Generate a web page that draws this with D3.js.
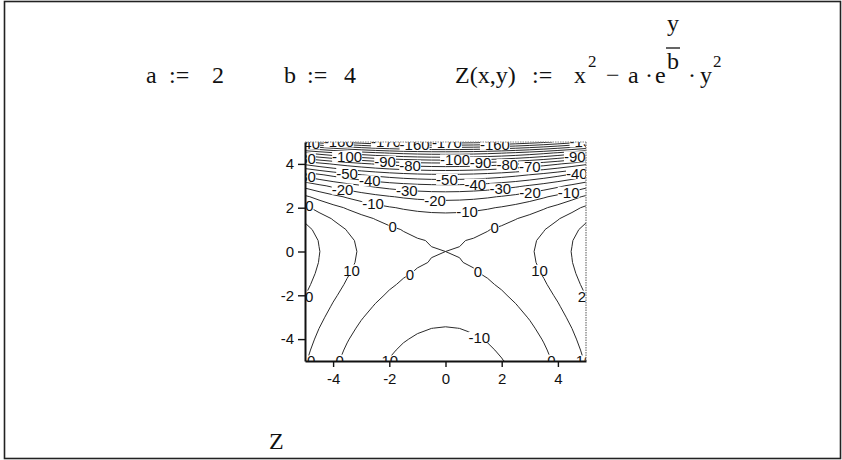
<!DOCTYPE html>
<html>
<head>
<meta charset="utf-8">
<script src="https://cdn.jsdelivr.net/npm/d3@7"></script>
<style>
  html, body { margin: 0; padding: 0; background: #fff; }
  svg { display: block; }
  .serif { font-family: "Liberation Serif", "Times New Roman", serif; fill: #111; }
  .tick text, .clabel { font-family: "Liberation Sans", Arial, sans-serif; }
</style>
</head>
<body>
<svg id="chart" width="842" height="460"></svg>
<script>
// Worksheet constants
const a = 2;
const b = 4;

// Plotted range of x and y, and the number of samples per axis
const xRange = [-5, 5];
const yRange = [-5, 5];
const gridCount = 21;

// Contour levels
const levels = [-170, -160, -150, -140, -130, -120, -110, -100, -90, -80, -70,
                -60, -50, -40, -30, -20, -10, 0, 10, 20];

// Axis ticks
const xTicks = [-4, -2, 0, 2, 4];
const yTicks = [-4, -2, 0, 2, 4];

// Label anchors: [level, x, y]; each label is moved onto its own contour line
const labelSpots = [
  [20, -5, -2.05], [20, 5, -2.05],
  [10, -4.93, -5], [10, 4.93, -5],
  [0, -3.7, -5], [0, 3.7, -5],
  [-10, -2.07, -5], [-10, 1.21, -3.9],
  [10, -3.4, -0.82], [10, 3.43, -0.82],
  [0, -1.37, -0.82], [0, 1.23, -0.82],
  [0, -1.9, 1.05], [0, 1.76, 1.05],
  [10, -5, 2.05],
  [-10, -2.58, 2.15], [-10, 0.77, 1.73], [-10, 4.36, 2.83],
  [-20, -3.68, 2.74], [-20, -0.37, 2.37], [-20, 3.0, 2.74],
  [-30, -5, 3.45], [-30, -1.37, 2.97], [-30, 1.94, 2.97],
  [-40, -2.69, 3.3], [-40, 1.05, 3.3], [-40, 4.68, 3.5],
  [-50, -3.5, 3.6], [-50, 0.05, 3.33],
  [-80, -5, 4.26],
  [-100, -3.5, 4.35], [-90, -2.15, 4.1], [-80, -1.26, 3.92],
  [-100, 0.34, 4.25], [-90, 1.25, 4.07], [-80, 2.2, 3.97], [-70, 3.0, 3.89],
  [-90, 4.6, 4.34],
  // along the top edge, where the labels are cut by the plot frame
  [-140, -5, 4.9], [-160, -3.8, 5], [-170, -2.5, 5], [-160, -1.1, 4.88],
  [-170, 0.05, 4.95], [-160, 1.76, 4.9], [-150, 4.95, 5]
];

// Function being plotted
const Z = (x, y) => x * x - a * Math.exp(y / b) * y * y;

const svg = d3.select("#chart");

// Outer worksheet frame
svg.append("rect")
  .attr("x", 4.5).attr("y", 1.5).attr("width", 836).attr("height", 457)
  .attr("fill", "#fff").attr("stroke", "#222").attr("stroke-width", 1.6);

// Definitions line
const head = svg.append("g").attr("class", "serif").attr("font-size", 24);
const put = (x, y, s, size) => {
  const t = head.append("text").attr("x", x).attr("y", y).text(s);
  if (size) t.attr("font-size", size);
  return t;
};
put(146, 83, "a"); put(169, 83, ":="); put(212, 83, "2");
put(284, 83, "b"); put(307, 83, ":="); put(344, 83, "4");
put(455, 83, "Z(x,y)"); put(532, 83, ":="); put(574, 83, "x");
put(588, 67, "2", 17);
put(606, 83, "\u2212");
put(628, 83, "a"); put(645, 83, "\u00b7"); put(655, 83, "e");
put(667, 31, "y");
head.append("line").attr("x1", 666).attr("x2", 680).attr("y1", 48).attr("y2", 48)
  .attr("stroke", "#111").attr("stroke-width", 1.3);
put(667, 69, "b");
put(688, 83, "\u00b7"); put(700, 83, "y");
put(713, 67, "2", 17);

// Name of the plotted matrix under the graph
svg.append("text").attr("class", "serif").attr("font-size", 24)
  .attr("x", 269).attr("y", 449).text("Z");

// Plot box
const X = d3.scaleLinear().domain(xRange).range([305, 586]);
const Y = d3.scaleLinear().domain(yRange).range([361, 142]);

// Sample the function on the grid (row j is y, column i is x)
const gx = d3.scaleLinear().domain([0, gridCount - 1]).range(xRange);
const gy = d3.scaleLinear().domain([0, gridCount - 1]).range(yRange);
const values = new Array(gridCount * gridCount);
for (let j = 0; j < gridCount; j++) {
  for (let i = 0; i < gridCount; i++) {
    values[j * gridCount + i] = Z(gx(i), gy(j));
  }
}

const contours = d3.contours().size([gridCount, gridCount]).thresholds(levels)(values);

// d3.contours puts sample k at coordinate k + 0.5
const cx = c => gx(c - 0.5);
const cy = c => gy(c - 0.5);
const proj = d3.geoTransform({
  point(px, py) { this.stream.point(X(cx(px)), Y(cy(py))); }
});
const path = d3.geoPath(proj);

svg.append("clipPath").attr("id", "plotClip")
  .append("rect")
  .attr("x", X(xRange[0])).attr("y", Y(yRange[1]))
  .attr("width", X(xRange[1]) - X(xRange[0]))
  .attr("height", Y(yRange[0]) - Y(yRange[1]));

const plot = svg.append("g").attr("clip-path", "url(#plotClip)");

plot.append("g").selectAll("path")
  .data(contours)
  .join("path")
  .attr("d", path)
  .attr("fill", "none")
  .attr("stroke", "#2a2a2a")
  .attr("stroke-width", 1)
  .attr("stroke-linejoin", "round");

// Place each label on the nearest point of its contour inside the plot range
const eps = 1e-6;
const inRange = (x, y) => x >= xRange[0] - eps && x <= xRange[1] + eps &&
                          y >= yRange[0] - eps && y <= yRange[1] + eps;

function snap(level, hx, hy) {
  const c = contours.find(d => d.value === level);
  const hpx = X(hx), hpy = Y(hy);
  let best = null, bestD = Infinity;
  c.coordinates.forEach(poly => poly.forEach(ring => {
    for (let k = 0; k < ring.length - 1; k++) {
      const x0 = cx(ring[k][0]), y0 = cy(ring[k][1]);
      const x1 = cx(ring[k + 1][0]), y1 = cy(ring[k + 1][1]);
      if (!inRange(x0, y0) || !inRange(x1, y1)) continue;
      const ax = X(x0), ay = Y(y0), bx = X(x1), by = Y(y1);
      const dx = bx - ax, dy = by - ay;
      const L = dx * dx + dy * dy;
      let t = L > 0 ? ((hpx - ax) * dx + (hpy - ay) * dy) / L : 0;
      t = Math.max(0, Math.min(1, t));
      const px = ax + t * dx, py = ay + t * dy;
      const d = (px - hpx) ** 2 + (py - hpy) ** 2;
      if (d < bestD) { bestD = d; best = [px, py]; }
    }
  }));
  return best || [hpx, hpy];
}

const labelLayer = plot.append("g");
labelSpots.forEach(([level, hx, hy]) => {
  const [px, py] = snap(level, hx, hy);
  const g = labelLayer.append("g");
  const t = g.append("text")
    .attr("class", "clabel")
    .attr("x", px).attr("y", py)
    .attr("text-anchor", "middle")
    .attr("dy", "0.36em")
    .attr("font-size", 15)
    .attr("fill", "#111")
    .text(String(level));
  const bb = t.node().getBBox();
  g.insert("rect", "text")
    .attr("x", bb.x).attr("y", bb.y + 3)
    .attr("width", bb.width).attr("height", bb.height - 6)
    .attr("fill", "#fff");
});

// Dotted right and top edges of the plot box
svg.append("line")
  .attr("x1", X(xRange[1])).attr("x2", X(xRange[1]))
  .attr("y1", Y(yRange[1])).attr("y2", Y(yRange[0]))
  .attr("stroke", "#888").attr("stroke-width", 1.4).attr("stroke-dasharray", "1.5,1");
svg.append("line")
  .attr("x1", X(xRange[0])).attr("x2", X(xRange[1]))
  .attr("y1", Y(yRange[1])).attr("y2", Y(yRange[1]))
  .attr("stroke", "#888").attr("stroke-width", 1).attr("stroke-dasharray", "1.5,1");

// Axes
const fmt = d => String(d);
const xAxis = svg.append("g")
  .attr("transform", `translate(0,${Y(yRange[0])})`)
  .call(d3.axisBottom(X).tickValues(xTicks).tickFormat(fmt).tickSize(6).tickSizeOuter(0).tickPadding(6));
const yAxis = svg.append("g")
  .attr("transform", `translate(${X(xRange[0])},0)`)
  .call(d3.axisLeft(Y).tickValues(yTicks).tickFormat(fmt).tickSize(7).tickSizeOuter(0).tickPadding(4));

[xAxis, yAxis].forEach(ax => {
  ax.select(".domain").attr("stroke", "#111").attr("stroke-width", 2);
  ax.selectAll(".tick line").attr("stroke", "#111").attr("stroke-width", 1.4);
  ax.selectAll(".tick text").attr("font-size", 15).attr("fill", "#111");
});
</script>
</body>
</html>
